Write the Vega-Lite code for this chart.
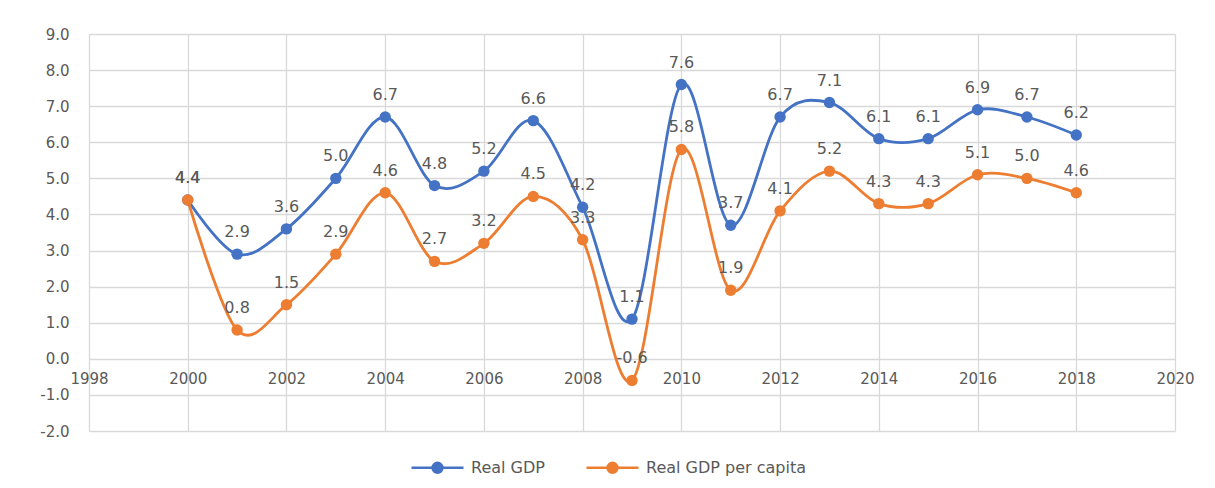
{
  "$schema": "https://vega.github.io/schema/vega-lite/v6.json",
  "width": 1086,
  "height": 397,
  "autosize": {"type": "none"},
  "padding": {"left": 89, "top": 34, "right": 40, "bottom": 57},
  "background": "white",
  "config": {
    "font": "DejaVu Sans",
    "locale": {"number": {"decimal": ".", "thousands": ",", "grouping": [3], "currency": ["$", ""], "minus": "-"}},
    "view": {"stroke": null},
    "axis": {"labelColor": "#595959", "labelFontSize": 15, "gridColor": "#d9d9d9", "gridWidth": 1.3, "domainColor": "#d9d9d9", "tickColor": "#d9d9d9"}
  },
  "data": {
    "values": [
      {"year": 2000, "series": "Real GDP", "value": 4.4},
      {"year": 2001, "series": "Real GDP", "value": 2.9},
      {"year": 2002, "series": "Real GDP", "value": 3.6},
      {"year": 2003, "series": "Real GDP", "value": 5.0},
      {"year": 2004, "series": "Real GDP", "value": 6.7},
      {"year": 2005, "series": "Real GDP", "value": 4.8},
      {"year": 2006, "series": "Real GDP", "value": 5.2},
      {"year": 2007, "series": "Real GDP", "value": 6.6},
      {"year": 2008, "series": "Real GDP", "value": 4.2},
      {"year": 2009, "series": "Real GDP", "value": 1.1},
      {"year": 2010, "series": "Real GDP", "value": 7.6},
      {"year": 2011, "series": "Real GDP", "value": 3.7},
      {"year": 2012, "series": "Real GDP", "value": 6.7},
      {"year": 2013, "series": "Real GDP", "value": 7.1},
      {"year": 2014, "series": "Real GDP", "value": 6.1},
      {"year": 2015, "series": "Real GDP", "value": 6.1},
      {"year": 2016, "series": "Real GDP", "value": 6.9},
      {"year": 2017, "series": "Real GDP", "value": 6.7},
      {"year": 2018, "series": "Real GDP", "value": 6.2},
      {"year": 2000, "series": "Real GDP per capita", "value": 4.4},
      {"year": 2001, "series": "Real GDP per capita", "value": 0.8},
      {"year": 2002, "series": "Real GDP per capita", "value": 1.5},
      {"year": 2003, "series": "Real GDP per capita", "value": 2.9},
      {"year": 2004, "series": "Real GDP per capita", "value": 4.6},
      {"year": 2005, "series": "Real GDP per capita", "value": 2.7},
      {"year": 2006, "series": "Real GDP per capita", "value": 3.2},
      {"year": 2007, "series": "Real GDP per capita", "value": 4.5},
      {"year": 2008, "series": "Real GDP per capita", "value": 3.3},
      {"year": 2009, "series": "Real GDP per capita", "value": -0.6},
      {"year": 2010, "series": "Real GDP per capita", "value": 5.8},
      {"year": 2011, "series": "Real GDP per capita", "value": 1.9},
      {"year": 2012, "series": "Real GDP per capita", "value": 4.1},
      {"year": 2013, "series": "Real GDP per capita", "value": 5.2},
      {"year": 2014, "series": "Real GDP per capita", "value": 4.3},
      {"year": 2015, "series": "Real GDP per capita", "value": 4.3},
      {"year": 2016, "series": "Real GDP per capita", "value": 5.1},
      {"year": 2017, "series": "Real GDP per capita", "value": 5.0},
      {"year": 2018, "series": "Real GDP per capita", "value": 4.6}
    ]
  },
  "resolve": {"axis": {"x": "independent", "y": "independent"}},
  "layer": [
    {
      "mark": {"type": "line", "interpolate": "cardinal", "strokeWidth": 2.8},
      "encoding": {
        "x": {"field": "year", "type": "quantitative", "scale": {"domain": [1998, 2020], "nice": false, "zero": false},
              "axis": {"orient": "bottom", "values": [1998, 2000, 2002, 2004, 2006, 2008, 2010, 2012, 2014, 2016, 2018, 2020], "grid": true, "labels": false, "ticks": false, "domain": false, "title": null}},
        "y": {"field": "value", "type": "quantitative", "scale": {"domain": [-2, 9], "nice": false},
              "axis": {"orient": "left", "values": [-2, -1, 0, 1, 2, 3, 4, 5, 6, 7, 8, 9], "format": ".1f", "grid": true, "ticks": false, "domain": false, "labelPadding": 20, "labelFlush": false, "title": null}},
        "color": {"field": "series", "type": "nominal",
                  "scale": {"domain": ["Real GDP", "Real GDP per capita"], "range": ["#4472c4", "#ed7d31"]},
                  "legend": {"title": null, "orient": "none", "legendX": 321, "legendY": 406, "direction": "horizontal",
                             "symbolType": "M-1,0L1,0M-0.19,0A0.19,0.19,0,1,1,0.19,0A0.19,0.19,0,1,1,-0.19,0Z",
                             "symbolSize": 2704, "symbolStrokeWidth": 2.5, "labelFontSize": 16, "labelColor": "#595959",
                             "labelOffset": 6, "columnPadding": 36,
                             "encode": {"symbols": {"update": {"fill": {"scale": "color", "field": "value"}, "stroke": {"scale": "color", "field": "value"}, "fillOpacity": {"value": 1}}}}}}
      }
    },
    {
      "mark": {"type": "point", "filled": true, "size": 130, "opacity": 1},
      "encoding": {
        "x": {"field": "year", "type": "quantitative",
              "axis": {"orient": "bottom", "values": [1998, 2000, 2002, 2004, 2006, 2008, 2010, 2012, 2014, 2016, 2018, 2020], "format": "d", "grid": false, "ticks": false, "domain": false, "offset": -72, "labelPadding": 12, "labelFlush": false, "title": null}},
        "y": {"field": "value", "type": "quantitative", "axis": null},
        "color": {"field": "series", "type": "nominal"}
      }
    },
    {
      "mark": {"type": "text", "dy": -22, "fontSize": 16, "color": "#595959"},
      "encoding": {
        "x": {"field": "year", "type": "quantitative", "axis": null},
        "y": {"field": "value", "type": "quantitative", "axis": null},
        "text": {"field": "value", "type": "quantitative", "format": ".1f"}
      }
    }
  ]
}
